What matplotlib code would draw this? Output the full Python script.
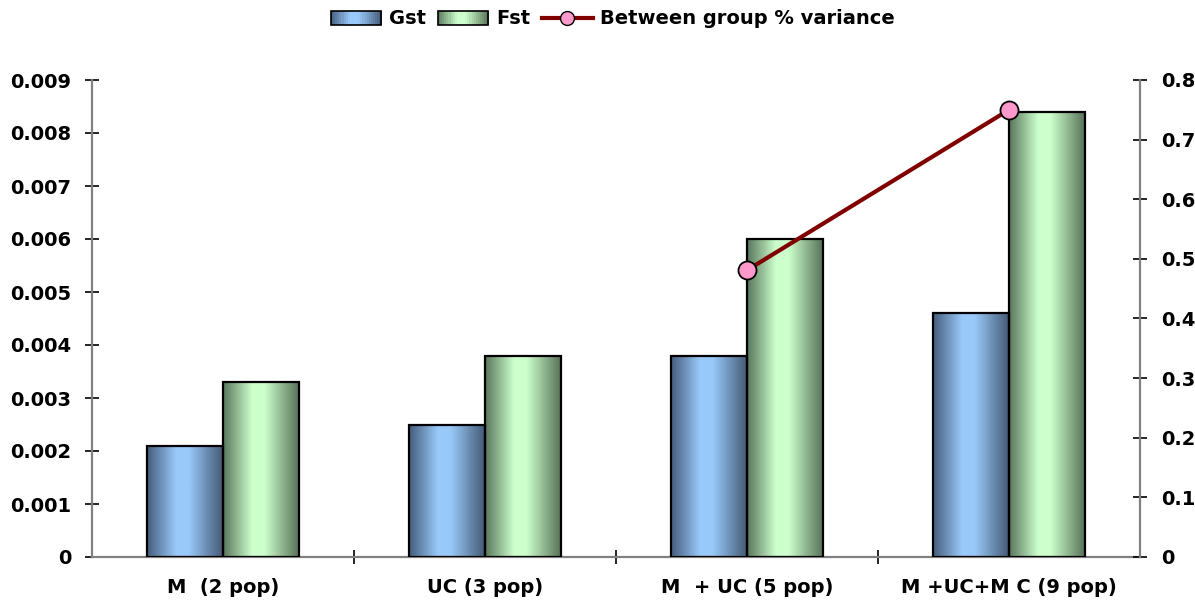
import matplotlib.pyplot as plt
import numpy as np
from matplotlib.colors import LinearSegmentedColormap
from matplotlib.legend_handler import HandlerBase
from matplotlib.lines import Line2D
from matplotlib.patches import Rectangle

categories = ['M  (2 pop)', 'UC (3 pop)', 'M  + UC (5 pop)', 'M +UC+M C (9 pop)']
gst = [0.0021, 0.0025, 0.0038, 0.0046]
fst = [0.0033, 0.0038, 0.0060, 0.0084]
between_idx = [2, 3]
between_pct = [0.481, 0.750]
left_ticks = [0, 0.001, 0.002, 0.003, 0.004, 0.005, 0.006, 0.007, 0.008, 0.009]
left_labels = ['0', '0.001', '0.002', '0.003', '0.004', '0.005', '0.006', '0.007', '0.008', '0.009']
right_ticks = [0, 0.1, 0.2, 0.3, 0.4, 0.5, 0.6, 0.7, 0.8]
right_labels = ['0', '0.1', '0.2', '0.3', '0.4', '0.5', '0.6', '0.7', '0.8']

plt.rcParams['font.family'] = ['DejaVu Sans']
plt.rcParams['font.weight'] = 'bold'

blue_cmap = LinearSegmentedColormap.from_list(
    'blue', [(0, '#465e7e'), (0.38, '#99c9f9'), (0.55, '#99c9f9'), (1, '#465c78')])
green_cmap = LinearSegmentedColormap.from_list(
    'green', [(0, '#5a785e'), (0.38, '#ccffcc'), (0.55, '#ccffcc'), (1, '#5a745a')])
grad = np.linspace(0, 1, 64).reshape(1, -1)


def gradient_bar(ax, x0, w, h, cmap):
    ax.imshow(grad, cmap=cmap, aspect='auto', extent=(x0, x0 + w, 0, h),
              origin='lower', zorder=2, interpolation='bilinear')
    ax.add_patch(Rectangle((x0, 0), w, h, fill=False, edgecolor='black',
                           linewidth=1.6, zorder=3))


class GradientHandler(HandlerBase):
    def __init__(self, cmap):
        super().__init__()
        self.cmap = cmap

    def create_artists(self, legend, orig_handle, xdescent, ydescent,
                       width, height, fontsize, trans):
        arts = []
        n = 24
        for i in range(n):
            arts.append(Rectangle((-xdescent + width * i / n, -ydescent), width / n + 0.3,
                                  height, facecolor=self.cmap((i + 0.5) / n),
                                  edgecolor='none', transform=trans))
        arts.append(Rectangle((-xdescent, -ydescent), width, height, fill=False,
                              edgecolor='black', linewidth=1.2, transform=trans))
        return arts


fig = plt.figure(figsize=(11.95, 6.01), dpi=100)
ax = fig.add_axes([92 / 1195, 1 - 557 / 601, (1140 - 92) / 1195, (557 - 80) / 601])
ax2 = ax.twinx()

w = 0.29
x = np.arange(len(categories))
for i in range(len(categories)):
    gradient_bar(ax, x[i] - w, w, gst[i], blue_cmap)
    gradient_bar(ax, x[i], w, fst[i], green_cmap)

ax.set_xlim(-0.5, 3.5)
ax.set_ylim(0, 0.009)
ax2.set_ylim(0, 0.8)

ax2.plot(between_idx, between_pct, color='#800000', linewidth=3, marker='o',
         markersize=13, markerfacecolor='#ff99cc', markeredgecolor='black',
         markeredgewidth=1.3, zorder=5, clip_on=False)

for a in (ax, ax2):
    a.spines['top'].set_visible(False)
    for s in ('left', 'right', 'bottom'):
        a.spines[s].set_color('#808080')
        a.spines[s].set_linewidth(1.6)
ax.spines['right'].set_visible(False)
ax2.spines['left'].set_visible(False)
ax2.spines['bottom'].set_visible(False)

ax.set_yticks(left_ticks)
ax.set_yticklabels(left_labels, fontsize=14, fontweight='bold')
ax2.set_yticks(right_ticks)
ax2.set_yticklabels(right_labels, fontsize=14, fontweight='bold')
ax.tick_params(axis='y', direction='inout', length=10, width=1.2, pad=10)
ax2.tick_params(axis='y', direction='inout', length=10, width=1.2, pad=10)

ax.set_xticks([0.5, 1.5, 2.5])
ax.set_xticklabels([])
ax.set_xticks(x, minor=True)
ax.set_xticklabels(categories, minor=True, fontsize=14, fontweight='bold')
ax.tick_params(axis='x', which='major', direction='inout', length=10, width=1.2)
ax.tick_params(axis='x', which='minor', length=0, pad=15)

handles = [Rectangle((0, 0), 1, 1), Rectangle((0, 0), 1, 1),
           Line2D([], [], color='#800000', linewidth=3, marker='o', markersize=10,
                  markerfacecolor='#ff99cc', markeredgecolor='black')]
h_gst, h_fst = handles[0], handles[1]
fig.legend(handles, ['Gst', 'Fst', 'Between group % variance'],
           loc='center', bbox_to_anchor=(613 / 1195, 1 - 19 / 601), ncol=3,
           frameon=False, fontsize=14, handlelength=2.6, handleheight=0.7,
           handletextpad=0.4, columnspacing=0.6,
           handler_map={h_gst: GradientHandler(blue_cmap), h_fst: GradientHandler(green_cmap)})

fig.savefig('out.png', dpi=100)
